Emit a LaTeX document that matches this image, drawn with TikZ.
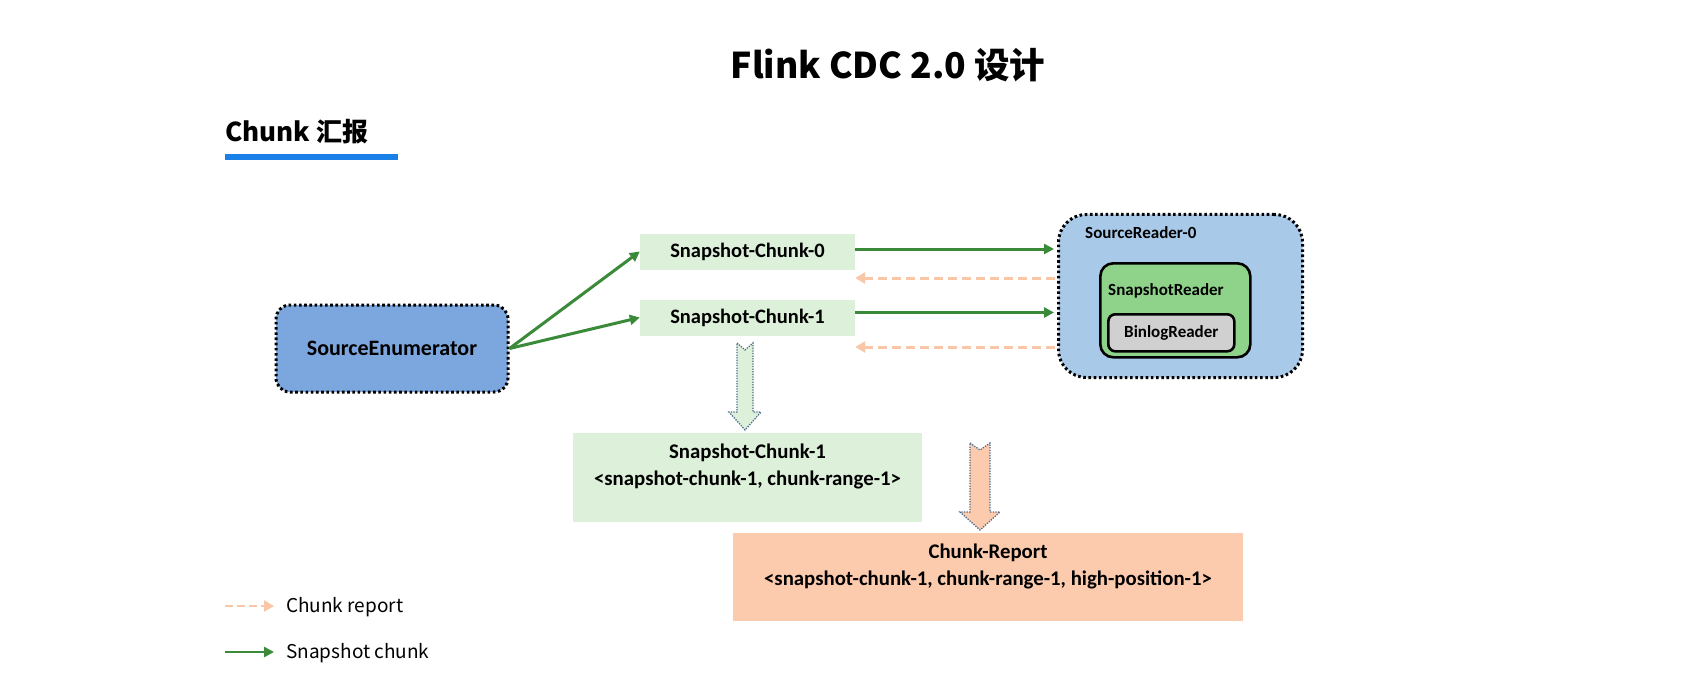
\documentclass[tikz,border=0pt]{standalone}
\usepackage{fontspec}
\setmainfont{Carlito}
\newfontfamily\cjk{Noto Sans CJK SC}
\usetikzlibrary{arrows.meta}
\definecolor{seblue}{HTML}{7BA7DE}
\definecolor{srblue}{HTML}{A9C9E9}
\definecolor{snapgreen}{HTML}{8FD38A}
\definecolor{bingray}{HTML}{D0D0D0}
\definecolor{lgreen}{HTML}{DDF0DA}
\definecolor{peach}{HTML}{FCCBAE}
\definecolor{agreen}{HTML}{3A8A3A}
\definecolor{lorange}{HTML}{F9C6A8}
\definecolor{ublue}{HTML}{1A7FE6}
\definecolor{aborder}{HTML}{4A6A8A}
\tikzset{
  dotborder/.style={draw=black, line width=3pt, dash pattern=on 2.6pt off 2.6pt},
  sebox/.style={dotborder, rectangle, rounded corners=14pt, fill=seblue, minimum width=232, minimum height=87, inner sep=0, font=\bfseries\fontsize{22}{26}\selectfont},
  chunkbox/.style={rectangle, fill=lgreen, minimum width=215, minimum height=36, inner sep=0, font=\bfseries\fontsize{20.5}{25}\selectfont},
  srbox/.style={dotborder, rectangle, rounded corners=28pt, fill=srblue, inner sep=0},
  snapbox/.style={draw=black, line width=2.6pt, rectangle, rounded corners=13pt, fill=snapgreen, inner sep=0},
  binbox/.style={draw=black, line width=2.6pt, rectangle, rounded corners=7pt, fill=bingray, inner sep=0, font=\bfseries\fontsize{17}{20}\selectfont},
  innerlabel/.style={anchor=west, inner sep=0, font=\bfseries\fontsize{17}{20}\selectfont},
  bigbox/.style={rectangle, inner sep=0},
  boxtext/.style={align=center, inner sep=0, font=\bfseries\fontsize{20.8}{27}\selectfont},
  greenarrow/.style={draw=agreen, line width=3pt, -{Triangle[length=10pt,width=10pt]}},
  reportarrow/.style={draw=lorange, line width=3pt, dash pattern=on 9pt off 5pt, -{Triangle[length=10pt,width=11pt]}},
  blockarrow/.style={draw=aborder, line width=1.3pt, dash pattern=on 1.3pt off 1.3pt},
  legendtext/.style={anchor=west, inner sep=0, font=\cjk\fontsize{19}{22}\selectfont},
}
\begin{document}
\begin{tikzpicture}[x=1pt,y=-1pt]
\useasboundingbox (0,0) rectangle (1694,687);
\fill[white] (0,0) rectangle (1694,687);

% titles
\node[inner sep=0, font=\cjk\bfseries\fontsize{35.5}{40}\selectfont] (title) at (888,65) {Flink CDC 2.0 设计};
\node[anchor=west, inner sep=0, font=\cjk\bfseries\fontsize{26}{30}\selectfont] (sub) at (225,132) {Chunk 汇报};
\node[fill=ublue, minimum width=173, minimum height=6, inner sep=0, anchor=north west] (underline) at (225,154) {};

% enumerator and chunks
\node[sebox] (se) at (392,348.5) {SourceEnumerator};
\node[chunkbox] (c0) at (747.5,251.5) {Snapshot-Chunk-0};
\node[chunkbox] (c1) at (747.5,317.5) {Snapshot-Chunk-1};

% source reader
\node[srbox, minimum width=244, minimum height=163, anchor=north west] (sr) at (1057,213) {};
\node[innerlabel] (srlabel) at (1085,233) {SourceReader-0};
\node[snapbox, minimum width=150, minimum height=94, anchor=north west] (snr) at (1099,262) {};
\node[innerlabel] (snrlabel) at (1108,291) {SnapshotReader};
\node[binbox, minimum width=126, minimum height=37, anchor=north west] (blr) at (1107,313) {BinlogReader};

% lower boxes
\node[bigbox, fill=lgreen, minimum width=349, minimum height=89] (snap1b) at (747.5,477.5) {};
\node[boxtext] (snap1bt) at (747.5,466.5) {Snapshot-Chunk-1\\<snapshot-chunk-1, chunk-range-1>};
\node[bigbox, fill=peach, minimum width=510, minimum height=88] (report) at (988,577) {};
\node[boxtext] (reportt) at (988,566.5) {Chunk-Report\\<snapshot-chunk-1, chunk-range-1, high-position-1>};

% block arrows
\draw[blockarrow, fill=lgreen] (737,343) -- (745,350) -- (753,343) -- (753,412) -- (761,412) -- (745,430) -- (729,412) -- (737,412) -- cycle;
\draw[blockarrow, fill=peach] (970,443) -- (980,450) -- (990,443) -- (990,512) -- (1000,512) -- (980,530) -- (960,512) -- (970,512) -- cycle;

% connectors
\draw[greenarrow] (se.east) -- (c0.west);
\draw[greenarrow] (se.east) -- (c1.west);
\draw[greenarrow, shorten >=3pt] ([yshift=2.5pt]c0.east) -- ([yshift=2.5pt]c0.east -| sr.west);
\draw[greenarrow, shorten >=3pt] ([yshift=5pt]c1.east) -- ([yshift=5pt]c1.east -| sr.west);
\coordinate (d0) at (1055,278);
\coordinate (d1) at (1055,347);
\draw[reportarrow] (d0) -- (d0 -| c0.east);
\draw[reportarrow] (d1) -- (d1 -| c1.east);

% legend
\coordinate (l1a) at (225,606);
\coordinate (l1b) at (274,606);
\coordinate (l2a) at (225,652);
\coordinate (l2b) at (274,652);
\draw[reportarrow, line width=2.5pt, dash pattern=on 8pt off 4pt] (l1a) -- (l1b);
\draw[greenarrow, line width=2.5pt] (l2a) -- (l2b);
\node[legendtext] (l1t) at (286,607) {Chunk report};
\node[legendtext] (l2t) at (286,653) {Snapshot chunk};
\end{tikzpicture}
\end{document}
